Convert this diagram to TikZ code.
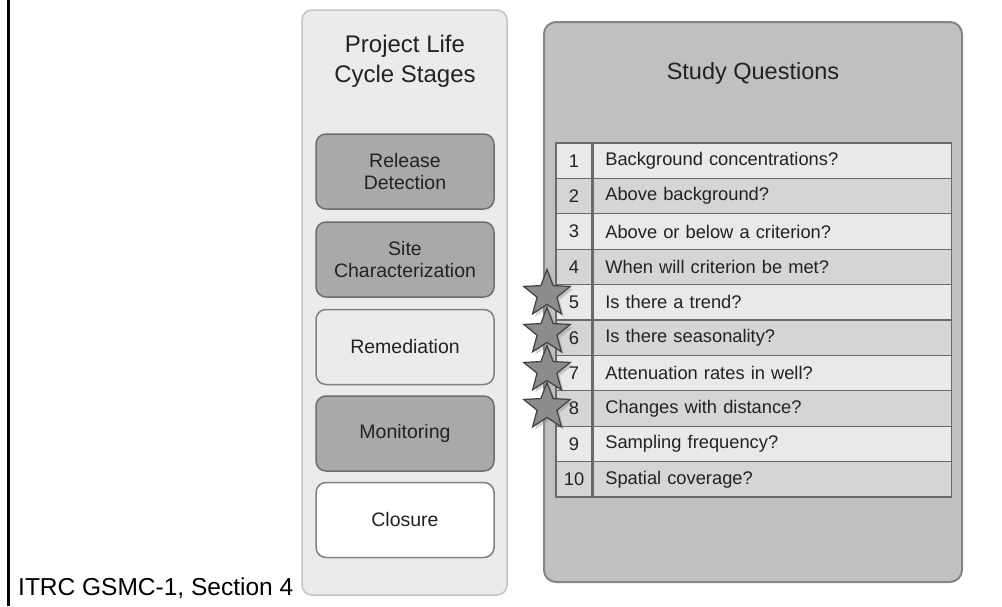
\documentclass[tikz,border=0pt]{standalone}
\usepackage{fontspec}
\setmainfont{Liberation Sans}
\usepackage{tikz}
\usetikzlibrary{shapes.geometric, shadows}
\definecolor{panelgray}{HTML}{EBEBEB}
\definecolor{paneledge}{HTML}{C4C4C4}
\definecolor{darkstage}{HTML}{A9A9A9}
\definecolor{stageedge}{HTML}{6E6E6E}
\definecolor{questpanel}{HTML}{C0C0C0}
\definecolor{questedge}{HTML}{858585}
\definecolor{rowlight}{HTML}{E9E9E9}
\definecolor{rowdark}{HTML}{D5D5D5}
\definecolor{rowedge}{HTML}{6A6A6A}
\definecolor{inktext}{HTML}{222222}
\tikzset{
    stagepanel/.style={draw=paneledge, fill=panelgray, line width=1.5pt, rounded corners=10pt,
        minimum width=205pt, minimum height=585pt, inner sep=0pt},
    questionpanel/.style={draw=questedge, fill=questpanel, line width=2pt, rounded corners=12pt,
        minimum width=418pt, minimum height=560pt, inner sep=0pt},
    stagebox/.style={draw=stageedge, line width=1.5pt, rounded corners=10pt, text=inktext,
        minimum width=178pt, minimum height=75pt, align=center,
        font=\fontsize{19.5}{22}\selectfont},
    numcell/.style={draw=rowedge, line width=1.3pt, minimum width=36pt, minimum height=35.4pt,
        inner sep=0pt, text=inktext, font=\fontsize{18.3}{20}\selectfont},
    textcell/.style={numcell, minimum width=358pt, text width=334pt, align=left, anchor=west},
    rowA/.style={fill=rowlight},
    rowB/.style={fill=rowdark},
    starmark/.style={star, star points=5, star point ratio=2.35, minimum size=49pt, inner sep=0pt,
        draw=black!75, line width=1.2pt, fill=black!45, drop shadow={opacity=0.35}},
    heading/.style={align=center, text=inktext, font=\fontsize{24}{30}\selectfont}
}
\begin{document}
\begin{tikzpicture}[x=1pt, y=-1pt]
    \useasboundingbox (0,0) rectangle (1002,606);

    % ---------------- margin ----------------
    \coordinate (ltop) at (8.5,0);
    \coordinate (lbot) at (8.5,606);
    \draw[line width=3pt] (ltop) -- (lbot);

    % ---------------- life cycle stages ----------------
    \node[stagepanel] (stages) at (404.5,302.5) {};
    \node[heading] (stagetitle) at (405,61) {Project Life\\Cycle Stages};

    \node[stagebox, fill=darkstage] (release) at (405,171.5) {Release\\Detection};
    \node[stagebox, fill=darkstage] (site) at (405,259.5) {Site\\Characterization};
    \node[stagebox, fill=panelgray, draw=black!50] (remed) at (405,347) {Remediation};
    \node[stagebox, fill=darkstage] (monit) at (405,433.5) {Monitoring};
    \node[stagebox, fill=white, draw=black!50] (closure) at (405,520) {Closure};

    % source line
    \node[anchor=base west, inner sep=0pt, font=\fontsize{24.5}{28}\selectfont] (source) at (18,595)
        {ITRC GSMC-1, Section 4};

    % ---------------- study questions ----------------
    \node[questionpanel] (questions) at (753,302) {};
    \node[anchor=base, text=inktext, font=\fontsize{23.5}{26}\selectfont] (questtitle) at (753,79)
        {Study Questions};

    \foreach \i/\r/\q in {1/rowA/Background concentrations?,
                          2/rowB/Above background?,
                          3/rowA/Above or below a criterion?,
                          4/rowB/When will criterion be met?,
                          5/rowA/Is there a trend?,
                          6/rowB/Is there seasonality?,
                          7/rowA/Attenuation rates in well?,
                          8/rowB/Changes with distance?,
                          9/rowA/Sampling frequency?,
                          10/rowB/Spatial coverage?}
    {
        \node[numcell, \r] (n\i) at (574,{143+(\i-0.5)*35.4}) {\i};
        \node[textcell, \r] (q\i) at (n\i.east) {\q};
    }

    % stars on questions 5 to 8
    \foreach \i/\y in {5/294,6/332,7/370,8/407}
        \node[starmark] (star\i) at (547,\y) {};
\end{tikzpicture}
\end{document}
